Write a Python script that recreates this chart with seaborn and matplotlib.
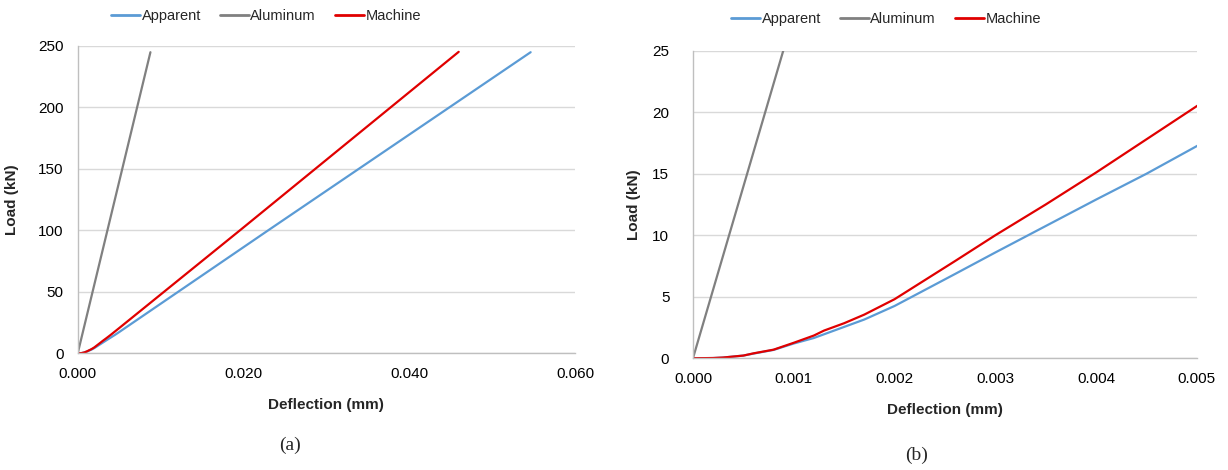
import numpy as np
import pandas as pd
import matplotlib
matplotlib.use("Agg")
import matplotlib.pyplot as plt
import seaborn as sns
from matplotlib.lines import Line2D

# Load-deflection records (deflection in mm, load in kN)
apparent_defl = [0.0, 0.0002, 0.0003, 0.0005, 0.0006, 0.0008, 0.0010, 0.0012, 0.0013,
                 0.0015, 0.0017, 0.0020, 0.0026, 0.0030, 0.0035, 0.0040, 0.0045, 0.0050,
                 0.02299, 0.05464]
apparent_load = [0.0, 0.02, 0.06, 0.22, 0.38, 0.68, 1.20, 1.65, 1.95,
                 2.55, 3.15, 4.25, 6.85, 8.60, 10.75, 12.9, 15.0, 17.25,
                 100.0, 244.7]

aluminum_defl = [0.0, 0.00877]
aluminum_load = [0.0, 244.7]

machine_defl = [0.0, 0.0002, 0.0003, 0.0005, 0.0006, 0.0008, 0.0010, 0.0012, 0.0013,
                0.0015, 0.0017, 0.0020, 0.0026, 0.0030, 0.0035, 0.0040, 0.0045, 0.0050,
                0.01958, 0.04596]
machine_load = [0.0, 0.02, 0.06, 0.22, 0.40, 0.70, 1.26, 1.85, 2.25,
                2.85, 3.55, 4.80, 7.90, 10.0, 12.5, 15.1, 17.8, 20.5,
                100.0, 245.0]

series_names = ["Apparent", "Aluminum", "Machine"]
series_colors = ["#5B9BD5", "#808080", "#E00000"]

frames = []
for name, dx, ly in zip(series_names,
                        [apparent_defl, aluminum_defl, machine_defl],
                        [apparent_load, aluminum_load, machine_load]):
    frames.append(pd.DataFrame({"Deflection": dx, "Load": ly, "Series": name}))
df = pd.concat(frames, ignore_index=True)

sns.set_theme(style="white")
plt.rcParams["font.family"] = ["Liberation Sans", "DejaVu Sans"]

fig = plt.figure(figsize=(12.28, 4.70), dpi=100)
ax_a = fig.add_axes([0.0633, 0.2483, 0.4050, 0.6545])
ax_b = fig.add_axes([0.5643, 0.2377, 0.4104, 0.6545])

palette = dict(zip(series_names, series_colors))

panels = [
    (ax_a, (0, 0.060), np.arange(0, 0.0601, 0.020), (0, 250), np.arange(0, 251, 50), 14),
    (ax_b, (0, 0.005), np.arange(0, 0.00501, 0.001), (0, 25), np.arange(0, 26, 5), 21),
]

for ax, xlim, xt, ylim, yt, ypad in panels:
    sns.lineplot(data=df, x="Deflection", y="Load", hue="Series",
                 hue_order=series_names, palette=palette, linewidth=1.6,
                 sort=False, estimator=None, ax=ax, legend=False)
    ax.set_xlim(*xlim)
    ax.set_ylim(*ylim)
    ax.set_xticks(xt)
    ax.set_xticklabels(["{:.3f}".format(v) for v in xt])
    ax.set_yticks(yt)
    ax.set_yticklabels([str(int(v)) for v in yt])
    ax.grid(axis="y", color="#d9d9d9", linewidth=1.0)
    ax.grid(axis="x", visible=False)
    ax.set_axisbelow(True)
    for side in ("top", "right"):
        ax.spines[side].set_visible(False)
    for side in ("left", "bottom"):
        ax.spines[side].set_color("#bfbfbf")
        ax.spines[side].set_linewidth(1.0)
    ax.tick_params(axis="x", length=0, pad=10, labelsize=11, colors="#000000")
    ax.tick_params(axis="y", length=0, pad=ypad - 4, labelsize=11, colors="#000000")
    ax.set_xlabel("Deflection (mm)", fontsize=11, fontweight="bold", labelpad=12)
    ax.set_ylabel("Load (kN)", fontsize=11, fontweight="bold")

ax_a.yaxis.set_label_coords(-0.118, 0.5)
ax_b.yaxis.set_label_coords(-0.103, 0.5)

# Legends above each panel
handles = [Line2D([0], [0], color=c, linewidth=2) for c in series_colors]
for cx, cy in [(266 / 1228, 1 - 16 / 470), (886 / 1228, 1 - 19 / 470)]:
    fig.legend(handles, series_names, loc="center", bbox_to_anchor=(cx, cy),
               ncol=3, frameon=False, fontsize=10.5, handlelength=2.0,
               handletextpad=0.1, columnspacing=1.3)

# Panel captions
fig.text(290 / 1228, 1 - 445 / 470, "(a)", ha="center", va="center",
         fontsize=14, family=["Liberation Serif", "DejaVu Serif"])
fig.text(917 / 1228, 1 - 455 / 470, "(b)", ha="center", va="center",
         fontsize=14, family=["Liberation Serif", "DejaVu Serif"])

fig.savefig("out.png", dpi=100, facecolor="white")
